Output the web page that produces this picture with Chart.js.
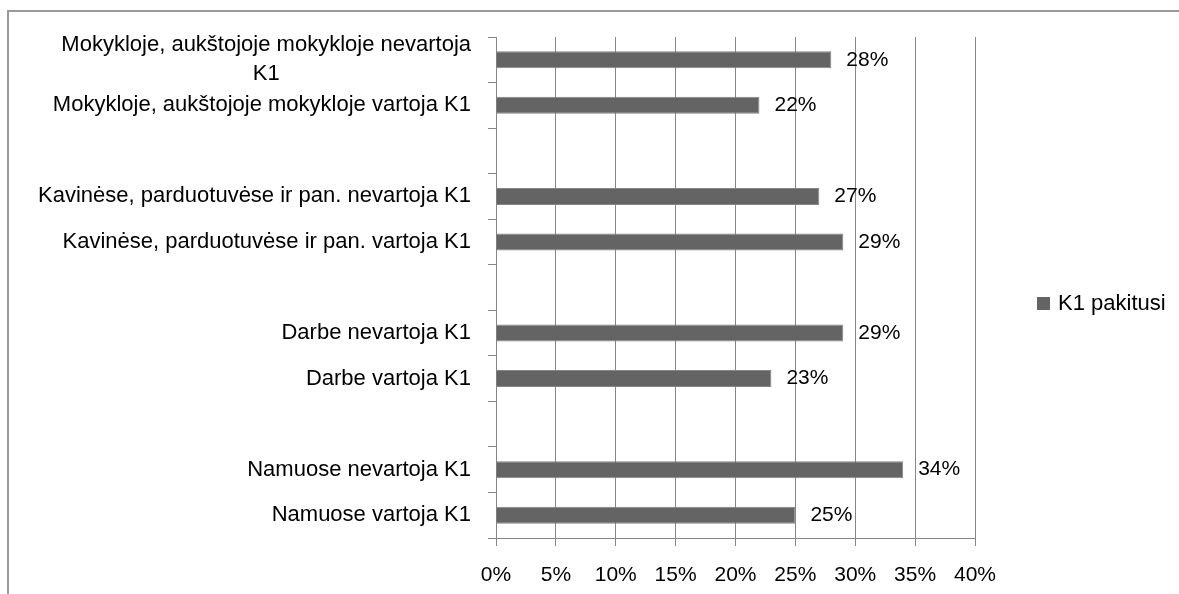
<!DOCTYPE html>
<html>
<head>
<meta charset="utf-8">
<title>K1 pakitusi</title>
<script src="https://cdn.jsdelivr.net/npm/chart.js@4.4.1/dist/chart.umd.min.js"></script>
<style>
    html, body { margin: 0; padding: 0; background: #fff; }
    #wrap {
        position: relative;
        width: 1179px;
        height: 594px;
        overflow: hidden;
        font-family: 'Liberation Sans', Arial, sans-serif;
    }
    #frame {
        position: absolute;
        left: 7px; top: 10px; right: -4px; bottom: -4px;
        border-top: 2px solid #9a9a9a;
        border-left: 2px solid #9a9a9a;
    }
    #chart { position: absolute; left: 0; top: 0; }
    #legend {
        position: absolute;
        left: 1037px; top: 290px;
        font-size: 22px; line-height: 26px; color: #000;
        display: flex; align-items: center;
        white-space: nowrap;
    }
    #legend .box { width: 13px; height: 13px; background: #646464; margin-right: 8px; }
</style>
</head>
<body>
<div id="wrap">
    <div id="frame"></div>
    <canvas id="chart" width="1179" height="594"></canvas>
    <div id="legend"><span class="box"></span><span id="legendText"></span></div>
</div>
<script>
// ==================== DATA ====================
const seriesName = 'K1 pakitusi';

// top to bottom, blank rows are the gaps between groups
const categories = [
    ['Mokykloje, aukštojoje mokykloje nevartoja', 'K1'],
    'Mokykloje, aukštojoje mokykloje vartoja K1',
    '',
    'Kavinėse, parduotuvėse ir pan. nevartoja K1',
    'Kavinėse, parduotuvėse ir pan. vartoja K1',
    '',
    'Darbe nevartoja K1',
    'Darbe vartoja K1',
    '',
    'Namuose nevartoja K1',
    'Namuose vartoja K1'
];

const values = [28, 22, null, 27, 29, null, 29, 23, null, 34, 25];

const xTicks = [0, 5, 10, 15, 20, 25, 30, 35, 40];

// ==================== STYLE ====================
const FONT = "'Liberation Sans', Arial, sans-serif";
const LABEL_SIZE = 22;
const TICK_SIZE = 21;
const GRID = '#868686';
const BAR = '#646464';

// ==================== PLUGINS ====================
// category labels: block right-aligned, lines centred inside the block
const categoryLabels = {
    id: 'categoryLabels',
    afterDraw(chart) {
        const ctx = chart.ctx;
        const yScale = chart.scales.y;
        const right = chart.chartArea.left - 25;
        const lineH = 29;
        ctx.save();
        ctx.font = LABEL_SIZE + 'px ' + FONT;
        ctx.fillStyle = '#000';
        ctx.textAlign = 'center';
        ctx.textBaseline = 'middle';
        categories.forEach((lab, i) => {
            if (!lab) return;
            const lines = Array.isArray(lab) ? lab : [lab];
            const w = Math.max(...lines.map(l => ctx.measureText(l).width));
            const cx = right - w / 2;
            const cy = yScale.getPixelForValue(i);
            lines.forEach((l, j) => {
                ctx.fillText(l, cx, cy + (j - (lines.length - 1) / 2) * lineH);
            });
        });
        ctx.restore();
    }
};

// value labels right of each bar
const valueLabels = {
    id: 'valueLabels',
    afterDatasetsDraw(chart) {
        const ctx = chart.ctx;
        const meta = chart.getDatasetMeta(0);
        ctx.save();
        ctx.font = TICK_SIZE + 'px ' + FONT;
        ctx.fillStyle = '#000';
        ctx.textAlign = 'left';
        ctx.textBaseline = 'middle';
        meta.data.forEach((bar, i) => {
            const v = values[i];
            if (v === null || v === undefined) return;
            ctx.fillText(v + '%', bar.x + 15, bar.y);
        });
        ctx.restore();
    }
};

// ==================== CHART ====================
document.getElementById('legendText').textContent = seriesName;

new Chart(document.getElementById('chart').getContext('2d'), {
    type: 'bar',
    data: {
        labels: categories,
        datasets: [{
            label: seriesName,
            data: values,
            backgroundColor: BAR,
            borderColor: '#858585',
            borderWidth: 1,
            barPercentage: 0.373,
            categoryPercentage: 1
        }]
    },
    options: {
        indexAxis: 'y',
        responsive: false,
        animation: false,
        layout: { padding: { top: 37, right: 204, bottom: 6, left: 0 } },
        plugins: {
            legend: { display: false },
            tooltip: { enabled: false }
        },
        scales: {
            x: {
                min: 0,
                max: 40,
                afterBuildTicks: s => { s.ticks = xTicks.map(v => ({ value: v })); },
                afterFit: s => { s.height = 50; },
                ticks: {
                    callback: v => v + '%',
                    color: '#000',
                    font: { family: FONT, size: TICK_SIZE },
                    padding: 17,
                    maxRotation: 0
                },
                grid: { color: GRID, lineWidth: 1, tickLength: 8 },
                border: { color: GRID, width: 1 }
            },
            y: {
                afterFit: s => { s.width = 496; },
                ticks: { display: false },
                grid: { drawOnChartArea: false, offset: true, color: GRID, tickLength: 8 },
                border: { color: GRID, width: 1 }
            }
        }
    },
    plugins: [categoryLabels, valueLabels]
});
</script>
</body>
</html>
